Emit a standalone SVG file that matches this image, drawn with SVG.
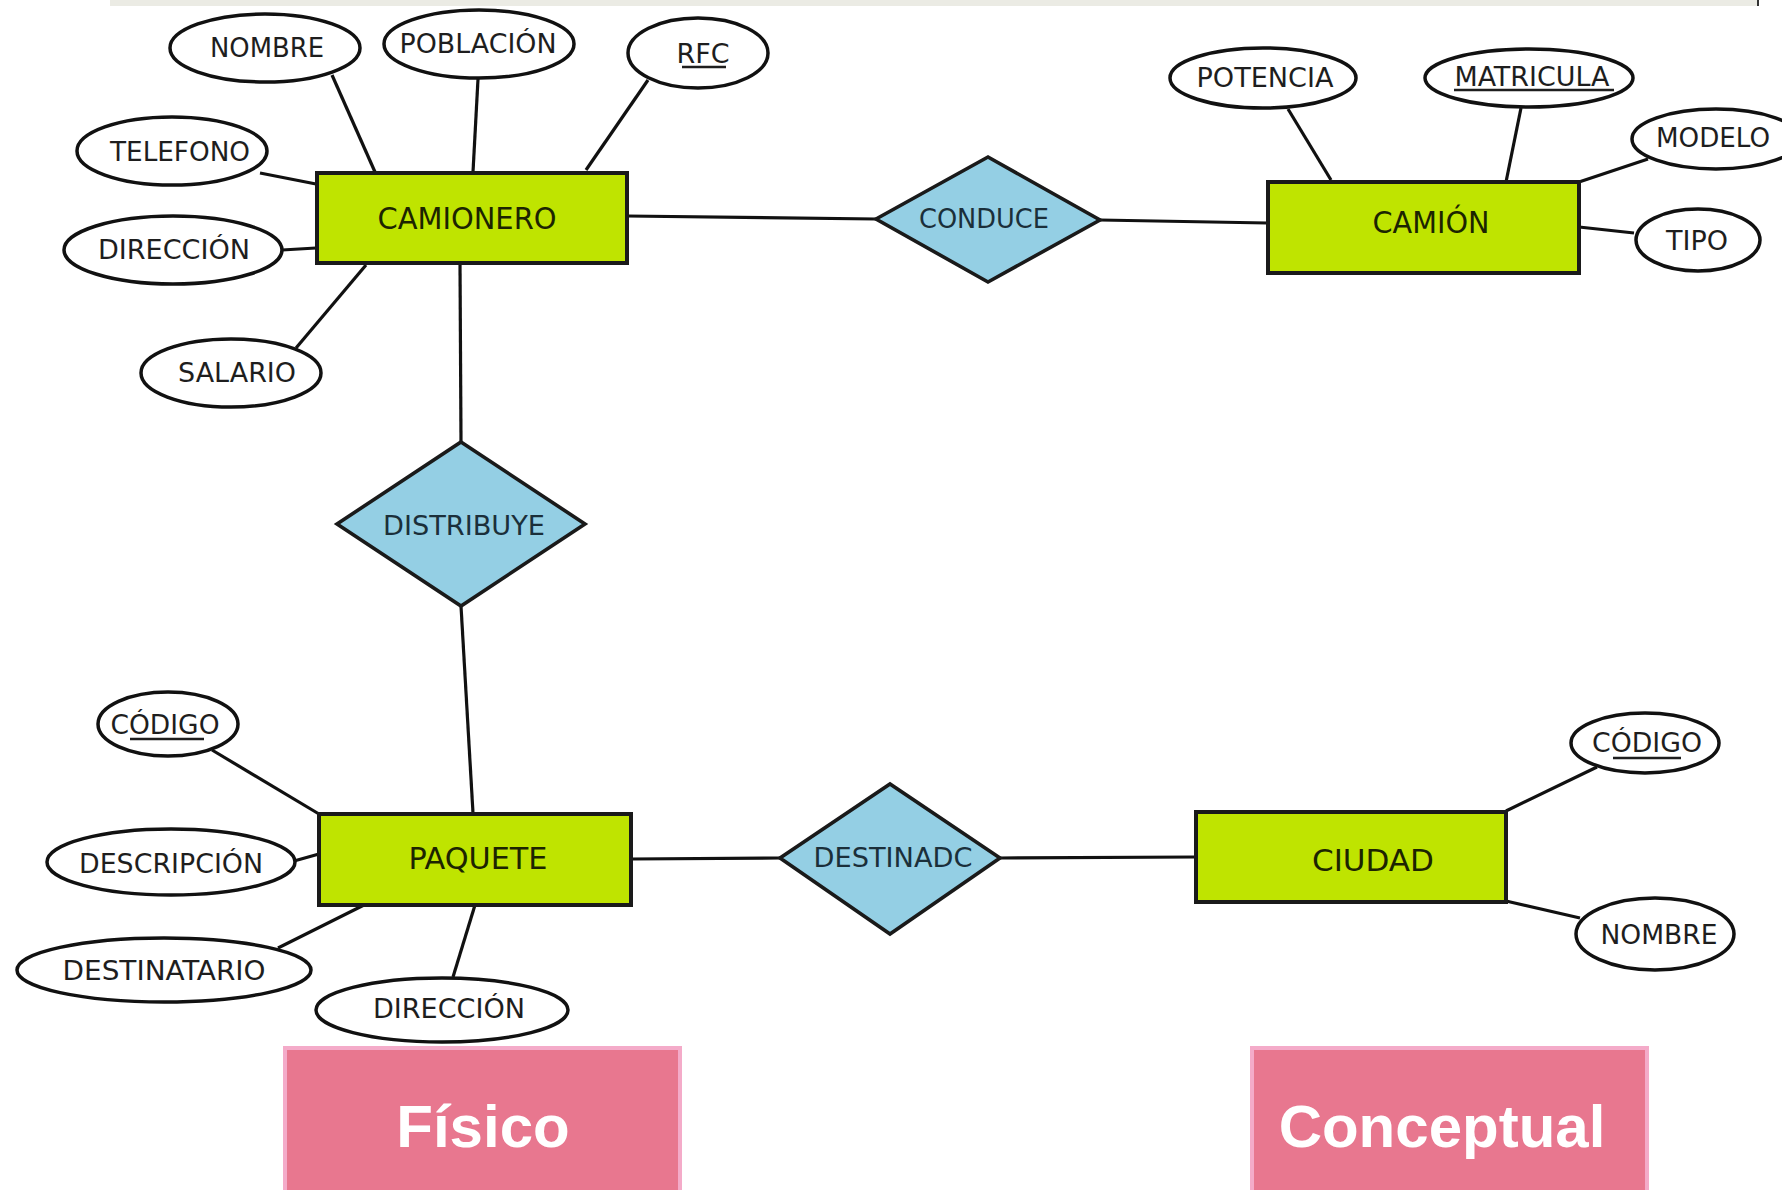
<svg xmlns="http://www.w3.org/2000/svg" width="1782" height="1190" viewBox="0 0 1782 1190">
<style>
.ent{fill:#bfe400;stroke:#1a1a1a;stroke-width:4}
.rel{fill:#94cfe4;stroke:#1a1a1a;stroke-width:3.6;stroke-linejoin:miter}
.att{fill:#ffffff;stroke:#111;stroke-width:3.5}
.ln{stroke:#111;stroke-width:3.2;fill:none}
.t{font-family:"DejaVu Sans Condensed","DejaVu Sans",sans-serif;fill:#1e1e1e;text-anchor:middle}
.ta{font-size:27px}
.te{font-size:30px;fill:#1c2400}
.tr{font-size:27px;fill:#1b2f3a}
.ul{stroke:#1e1e1e;stroke-width:2.5}
.tag{fill:#e8778f;stroke:#f4abc9;stroke-width:4}
.tt{font-family:"Liberation Sans",Arial,sans-serif;font-weight:bold;font-size:60px;fill:#ffffff;text-anchor:middle}
</style>
<rect x="110" y="0" width="1648" height="6" fill="#ebebe4"/>
<line x1="1758" y1="0" x2="1758" y2="6" stroke="#333" stroke-width="2"/>
<g id="connectors">
<line class="ln" x1="332" y1="75" x2="375" y2="172"/>
<line class="ln" x1="478" y1="79" x2="473" y2="172"/>
<line class="ln" x1="648" y1="80" x2="586" y2="170"/>
<line class="ln" x1="260" y1="173" x2="316" y2="184"/>
<line class="ln" x1="282" y1="250" x2="316" y2="248"/>
<line class="ln" x1="296" y1="348" x2="366" y2="265"/>
<line class="ln" x1="460" y1="263" x2="461" y2="442"/>
<line class="ln" x1="627" y1="216" x2="876" y2="219"/>
<line class="ln" x1="1100" y1="220" x2="1267" y2="223"/>
<line class="ln" x1="1288" y1="109" x2="1331" y2="180"/>
<line class="ln" x1="1521" y1="108" x2="1506" y2="182"/>
<line class="ln" x1="1648" y1="159" x2="1579" y2="182"/>
<line class="ln" x1="1579" y1="227" x2="1634" y2="233"/>
<line class="ln" x1="461" y1="606" x2="473" y2="813"/>
<line class="ln" x1="212" y1="750" x2="319" y2="814"/>
<line class="ln" x1="294" y1="861" x2="319" y2="854"/>
<line class="ln" x1="278" y1="948" x2="364" y2="905"/>
<line class="ln" x1="453" y1="977" x2="475" y2="905"/>
<line class="ln" x1="631" y1="859" x2="780" y2="858"/>
<line class="ln" x1="1000" y1="858" x2="1196" y2="857"/>
<line class="ln" x1="1597" y1="767" x2="1506" y2="811"/>
<line class="ln" x1="1506" y1="901" x2="1580" y2="918"/>
</g>
<g id="camionero"><rect class="ent" x="317" y="173" width="310" height="90"/><text class="t te" x="467" y="229" textLength="179" lengthAdjust="spacingAndGlyphs">CAMIONERO</text></g>
<g id="camion"><rect class="ent" x="1268" y="182" width="311" height="91"/><text class="t te" x="1431" y="233" textLength="117" lengthAdjust="spacingAndGlyphs">CAMIÓN</text></g>
<g id="paquete"><rect class="ent" x="319" y="814" width="312" height="91"/><text class="t te" x="478" y="869" textLength="139" lengthAdjust="spacingAndGlyphs">PAQUETE</text></g>
<g id="ciudad"><rect class="ent" x="1196" y="812" width="310" height="90"/><text class="t te" x="1373" y="871" textLength="122" lengthAdjust="spacingAndGlyphs">CIUDAD</text></g>
<g id="conduce"><polygon class="rel" points="876,219 988,157 1100,220 988,282"/><text class="t tr" x="984" y="228" textLength="130" lengthAdjust="spacingAndGlyphs">CONDUCE</text></g>
<g id="distribuye"><polygon class="rel" points="461,442 585,524 461,606 337,524"/><text class="t tr" x="464" y="535" textLength="162" lengthAdjust="spacingAndGlyphs">DISTRIBUYE</text></g>
<g id="destinadc"><polygon class="rel" points="780,858 890,784 1000,858 890,934"/><text class="t tr" x="893" y="867" textLength="159" lengthAdjust="spacingAndGlyphs">DESTINADC</text></g>
<g id="att-nombre1"><ellipse class="att" cx="265" cy="48" rx="95" ry="34"/><text class="t ta" x="267" y="57" textLength="114" lengthAdjust="spacingAndGlyphs">NOMBRE</text></g>
<g id="att-poblacion"><ellipse class="att" cx="479" cy="44" rx="95" ry="34"/><text class="t ta" x="478" y="53" textLength="157" lengthAdjust="spacingAndGlyphs">POBLACIÓN</text></g>
<g id="att-rfc"><ellipse class="att" cx="698" cy="53" rx="70" ry="35"/><text class="t ta" x="703" y="63" textLength="53" lengthAdjust="spacingAndGlyphs">RFC</text><line class="ul" x1="682" y1="67" x2="726" y2="67"/></g>
<g id="att-telefono"><ellipse class="att" cx="172" cy="151" rx="95" ry="34"/><text class="t ta" x="180" y="161" textLength="140" lengthAdjust="spacingAndGlyphs">TELEFONO</text></g>
<g id="att-direccion1"><ellipse class="att" cx="173" cy="250" rx="109" ry="34"/><text class="t ta" x="174" y="259" textLength="152" lengthAdjust="spacingAndGlyphs">DIRECCIÓN</text></g>
<g id="att-salario"><ellipse class="att" cx="231" cy="373" rx="90" ry="34"/><text class="t ta" x="237" y="382" textLength="118" lengthAdjust="spacingAndGlyphs">SALARIO</text></g>
<g id="att-potencia"><ellipse class="att" cx="1263" cy="78" rx="93" ry="30"/><text class="t ta" x="1265" y="87" textLength="137" lengthAdjust="spacingAndGlyphs">POTENCIA</text></g>
<g id="att-matricula"><ellipse class="att" cx="1529" cy="78" rx="104" ry="29"/><text class="t ta" x="1532" y="86" textLength="155" lengthAdjust="spacingAndGlyphs">MATRICULA</text><line class="ul" x1="1454" y1="90" x2="1614" y2="90"/></g>
<g id="att-modelo"><ellipse class="att" cx="1716" cy="139" rx="84" ry="30"/><text class="t ta" x="1713" y="147" textLength="114" lengthAdjust="spacingAndGlyphs">MODELO</text></g>
<g id="att-tipo"><ellipse class="att" cx="1698" cy="240" rx="62" ry="31"/><text class="t ta" x="1697" y="250" textLength="62" lengthAdjust="spacingAndGlyphs">TIPO</text></g>
<g id="att-codigo1"><ellipse class="att" cx="168" cy="724" rx="70" ry="32"/><text class="t ta" x="165" y="734" textLength="109" lengthAdjust="spacingAndGlyphs">CÓDIGO</text><line class="ul" x1="130" y1="739" x2="204" y2="739"/></g>
<g id="att-descripcion"><ellipse class="att" cx="171" cy="862" rx="124" ry="33"/><text class="t ta" x="171" y="873" textLength="184" lengthAdjust="spacingAndGlyphs">DESCRIPCIÓN</text></g>
<g id="att-destinatario"><ellipse class="att" cx="164" cy="970" rx="147" ry="32"/><text class="t ta" x="164" y="980" textLength="203" lengthAdjust="spacingAndGlyphs">DESTINATARIO</text></g>
<g id="att-direccion2"><ellipse class="att" cx="442" cy="1010" rx="126" ry="32"/><text class="t ta" x="449" y="1018" textLength="152" lengthAdjust="spacingAndGlyphs">DIRECCIÓN</text></g>
<g id="att-codigo2"><ellipse class="att" cx="1645" cy="743" rx="74" ry="30"/><text class="t ta" x="1647" y="752" textLength="110" lengthAdjust="spacingAndGlyphs">CÓDIGO</text><line class="ul" x1="1613" y1="758" x2="1681" y2="758"/></g>
<g id="att-nombre2"><ellipse class="att" cx="1655" cy="934" rx="79" ry="36"/><text class="t ta" x="1659" y="944" textLength="117" lengthAdjust="spacingAndGlyphs">NOMBRE</text></g>
<g id="fisico"><rect class="tag" x="285" y="1048" width="395" height="146"/><text class="tt" x="483" y="1147">Físico</text></g>
<g id="conceptual"><rect class="tag" x="1252" y="1048" width="395" height="146"/><text class="tt" x="1442" y="1147">Conceptual</text></g>
</svg>
